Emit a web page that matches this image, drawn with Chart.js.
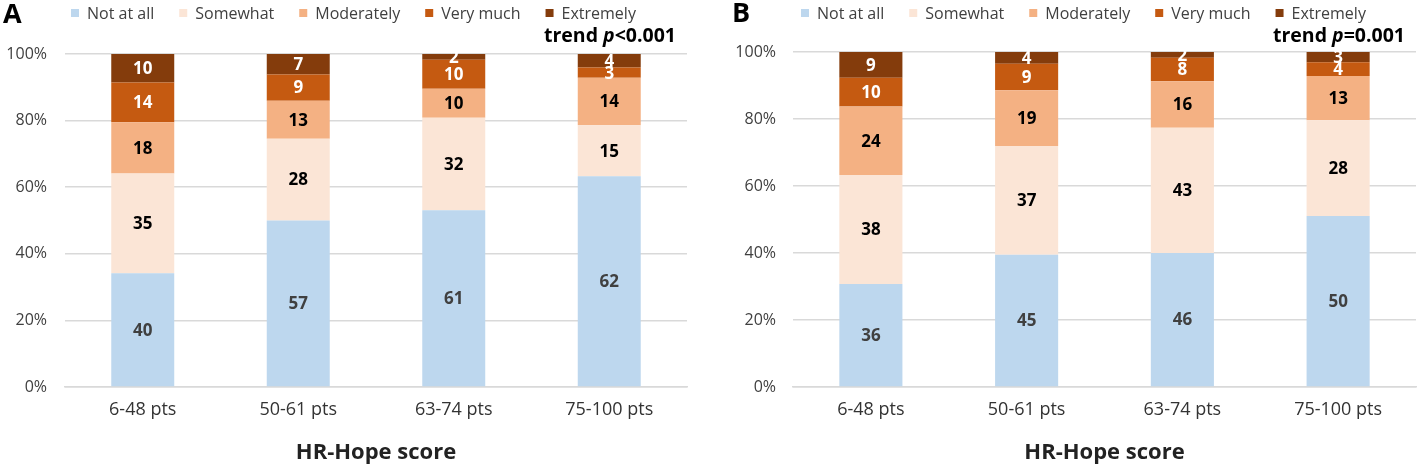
<!DOCTYPE html>
<html>
<head>
<meta charset="utf-8">
<script src="https://cdn.jsdelivr.net/npm/chart.js@4.4.1/dist/chart.umd.min.js"></script>
<style>
  html, body { margin: 0; padding: 0; background: #fff; }
  body { width: 1418px; height: 467px; position: relative; overflow: hidden; }
  .panel { position: absolute; top: 0; width: 709px; height: 467px; }
  #pa { left: 0; }
  #pb { left: 709px; }
</style>
</head>
<body>
<div class="panel" id="pa"><canvas id="ca" width="709" height="467"></canvas></div>
<div class="panel" id="pb"><canvas id="cb" width="709" height="467"></canvas></div>
<script>
// ---- Data ----
const categories = ['6-48 pts', '50-61 pts', '63-74 pts', '75-100 pts'];
const seriesNames = ['Not at all', 'Somewhat', 'Moderately', 'Very much', 'Extremely'];
const yTickLabels = ['0%', '20%', '40%', '60%', '80%', '100%'];
const xAxisTitle = 'HR-Hope score';

// Panel A counts per series (per category)
const A_notAtAll   = [40, 57, 61, 62];
const A_somewhat   = [35, 28, 32, 15];
const A_moderately = [18, 13, 10, 14];
const A_veryMuch   = [14, 9, 10, 3];
const A_extremely  = [10, 7, 2, 4];
const A_trend = ['trend ', 'p', '<0.001'];

// Panel B counts per series (per category)
const B_notAtAll   = [36, 45, 46, 50];
const B_somewhat   = [38, 37, 43, 28];
const B_moderately = [24, 19, 16, 13];
const B_veryMuch   = [10, 9, 8, 4];
const B_extremely  = [9, 4, 2, 3];
const B_trend = ['trend ', 'p', '=0.001'];

// ---- Styles ----
const colors = ['#BDD7EE', '#FBE5D6', '#F4B183', '#C55A11', '#843C0C'];
const labelColors = ['#404040', '#000000', '#000000', '#FFFFFF', '#FFFFFF'];
const FONT = "'Open Sans', 'Noto Sans', sans-serif";

function buildDatasets(seriesCounts) {
  const n = categories.length;
  const totals = [];
  for (let i = 0; i < n; i++) {
    let t = 0;
    seriesCounts.forEach(s => t += s[i]);
    totals.push(t);
  }
  return seriesCounts.map((s, k) => ({
    label: seriesNames[k],
    data: s.map((v, i) => v / totals[i] * 100),
    counts: s,
    backgroundColor: colors[k],
    borderWidth: 0,
    barPercentage: 0.405,
    categoryPercentage: 1.0
  }));
}

const dataLabelPlugin = {
  id: 'dataLabels',
  afterDatasetsDraw(chart) {
    const ctx = chart.ctx;
    ctx.save();
    ctx.font = "bold 17px " + FONT;
    ctx.textAlign = 'center';
    ctx.textBaseline = 'middle';
    chart.data.datasets.forEach((ds, k) => {
      const meta = chart.getDatasetMeta(k);
      meta.data.forEach((el, i) => {
        const yc = (el.y + el.base) / 2;
        ctx.fillStyle = labelColors[k];
        ctx.fillText(String(ds.counts[i]), el.x, yc + 1);
      });
    });
    ctx.restore();
  }
};

const headerPlugin = {
  id: 'header',
  afterDraw(chart, args, opts) {
    const ctx = chart.ctx;
    ctx.save();
    // Panel letter
    ctx.fillStyle = '#000';
    ctx.font = "bold 27px " + FONT;
    ctx.textAlign = 'left';
    ctx.textBaseline = 'middle';
    ctx.fillText(opts.letter, opts.letterX, opts.letterY);
    // Legend
    ctx.font = "16px " + FONT;
    let x = opts.legendX;
    const box = 8;
    chart.data.datasets.forEach((ds, k) => {
      ctx.fillStyle = colors[k];
      ctx.fillRect(x, opts.legendY - box / 2, box, box);
      x += box + 8;
      ctx.fillStyle = '#404040';
      ctx.fillText(ds.label, x, opts.legendY + 1);
      x += ctx.measureText(ds.label).width + 25;
    });
    // Trend text
    const parts = opts.trend;
    const fonts = ["bold 19.5px " + FONT, "italic bold 19.5px " + FONT, "bold 19.5px " + FONT];
    let total = 0;
    const widths = parts.map((p, i) => { ctx.font = fonts[i]; const w = ctx.measureText(p).width; total += w; return w; });
    let tx = opts.trendRight - total;
    ctx.fillStyle = '#000';
    parts.forEach((p, i) => {
      ctx.font = fonts[i];
      ctx.fillText(p, tx, opts.trendY);
      tx += widths[i];
    });
    ctx.restore();
  }
};

function makeChart(canvasId, seriesCounts, cfg) {
  return new Chart(document.getElementById(canvasId), {
    type: 'bar',
    data: { labels: categories, datasets: buildDatasets(seriesCounts) },
    plugins: [dataLabelPlugin, headerPlugin],
    options: {
      responsive: false,
      animation: false,
      devicePixelRatio: 1,
      layout: { padding: { top: cfg.top, right: cfg.right, left: 0, bottom: 0 } },
      plugins: {
        legend: { display: false },
        tooltip: { enabled: false },
        header: cfg.header
      },
      scales: {
        x: {
          stacked: true,
          grid: { display: false, drawTicks: false },
          border: { display: true, color: '#D9D9D9', width: 1.5 },
          ticks: { color: '#333333', font: { family: FONT, size: 18 }, padding: 12 },
          title: { display: true, text: xAxisTitle, color: '#222222', font: { family: FONT, size: 22, weight: 'bold' }, padding: { top: 0, bottom: 1 } },
          afterFit(scale) { scale.height = 467 - 387; }
        },
        y: {
          stacked: true,
          min: 0, max: 100,
          ticks: {
            stepSize: 20,
            color: '#404040',
            font: { family: FONT, size: 16 },
            padding: cfg.tickPad,
            callback: (v) => yTickLabels[Math.round(v / 20)]
          },
          grid: { color: '#D9D9D9', lineWidth: 1.5, drawTicks: false },
          border: { display: false },
          afterFit(scale) { scale.width = cfg.yWidth; }
        }
      }
    }
  });
}

makeChart('ca', [A_notAtAll, A_somewhat, A_moderately, A_veryMuch, A_extremely], {
  top: 54, right: 22, yWidth: 65, tickPad: 18,
  header: { letter: 'A', letterX: 3, letterY: 15, legendX: 71, legendY: 13, trend: A_trend, trendRight: 676, trendY: 36 }
});
makeChart('cb', [B_notAtAll, B_somewhat, B_moderately, B_veryMuch, B_extremely], {
  top: 52, right: 2, yWidth: 84, tickPad: 17,
  header: { letter: 'B', letterX: 23, letterY: 14, legendX: 92, legendY: 13, trend: B_trend, trendRight: 696, trendY: 36 }
});
</script>
</body>
</html>
